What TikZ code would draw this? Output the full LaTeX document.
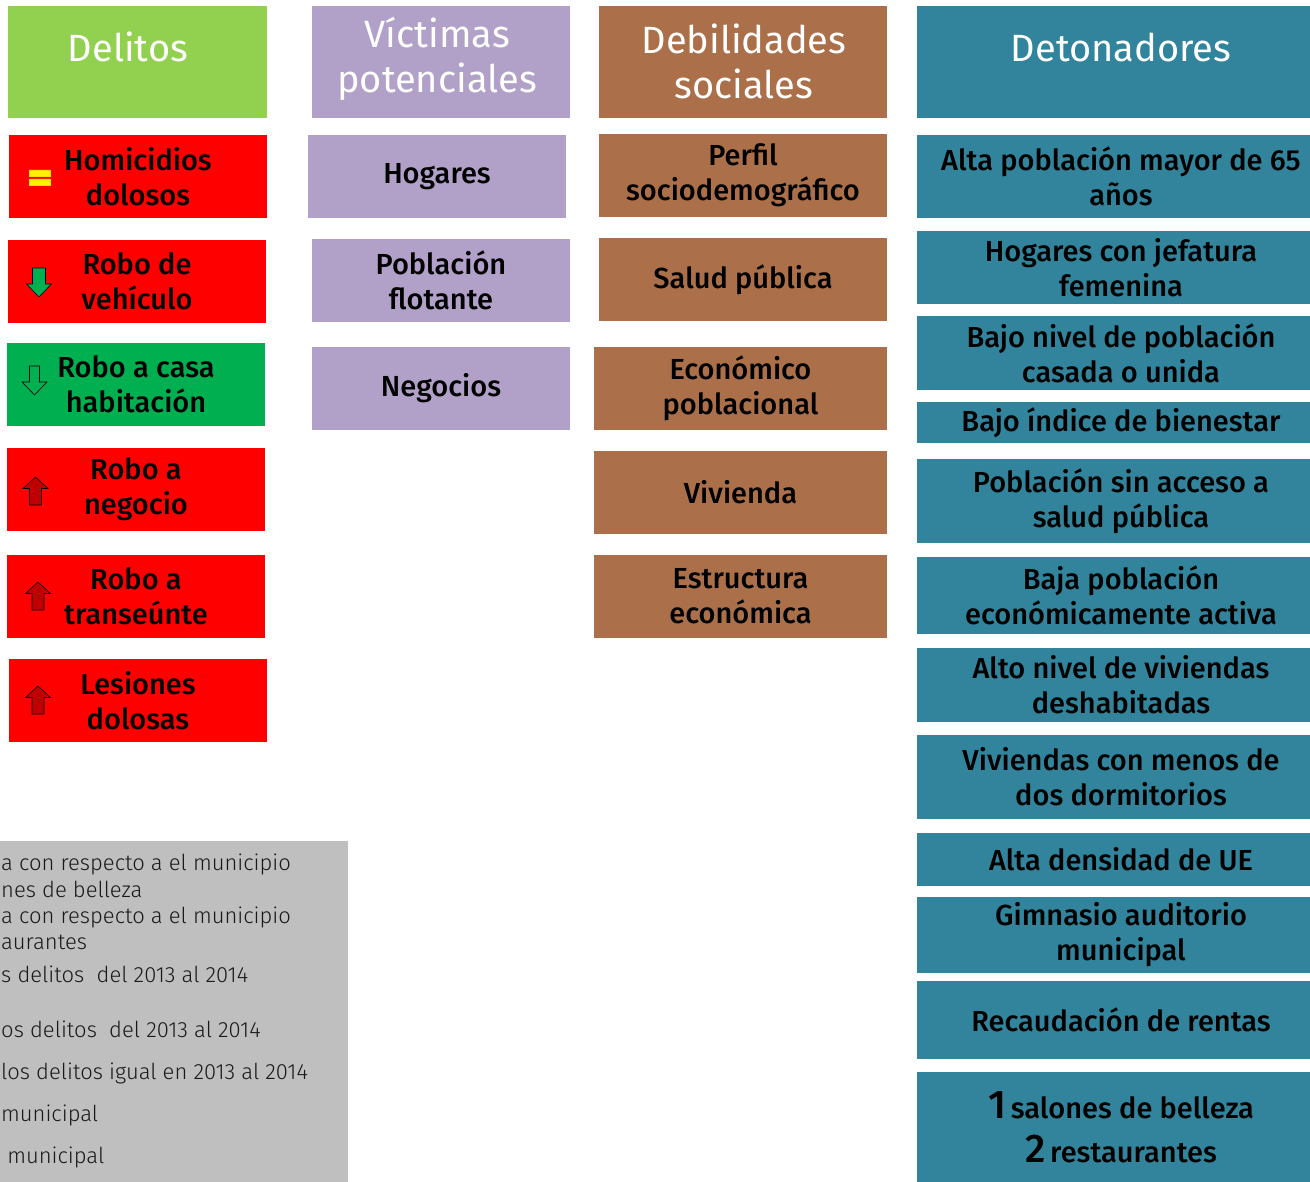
\documentclass[tikz,border=0pt]{standalone}
\usepackage{fontspec}
\setmainfont{Fira Sans}
\newfontfamily\cellfont{Fira Sans Medium}
\newfontfamily\legfont{Fira Sans Light}
\usepackage{tikz}
\definecolor{hdrgreen}{HTML}{92D050}
\definecolor{cellred}{HTML}{FF0000}
\definecolor{casagreen}{HTML}{00B050}
\definecolor{lila}{HTML}{B1A0C7}
\definecolor{cafe}{RGB}{171,112,74}
\definecolor{petrol}{HTML}{31849B}
\definecolor{legendgray}{HTML}{BFBFBF}
\definecolor{arrred}{HTML}{C00000}

\begin{document}
\begin{tikzpicture}[x=1pt,y=-1pt,
cell/.style={rectangle,inner sep=0pt,align=center,text=black,font=\cellfont\fontsize{29}{35}\selectfont},
hdrtxt/.style={align=center,text=white,inner sep=0pt,font=\fontsize{38}{45}\selectfont},
legtxt/.style={anchor=base west,inner sep=0pt,text=black!90,font=\legfont\fontsize{22}{26}\selectfont},
uparr/.style={fill=arrred,draw=black,line width=0.6pt,line join=miter},
dnarr/.style={fill=casagreen,draw=black,line width=0.6pt,line join=miter}]
\useasboundingbox (0,0) rectangle (1310,1182);
% headers
\foreach \n/\xa/\xb/\c in {h1/8/267/hdrgreen,h2/312/570/lila,h3/599/887/cafe,h4/917/1325/petrol} {
   \node[cell,fill=\c,minimum width={(\xb-\xa)*1pt},minimum height=112pt] (\n) at ({(\xa+\xb)/2},62) {};
}
\node[hdrtxt,anchor=base] (h1t) at (128,62) {Delitos};
\node[hdrtxt] (h2t) at (437,59) {Víctimas\\potenciales};
\node[hdrtxt] (h3t) at (744,61) {Debilidades\\sociales};
\node[hdrtxt,anchor=base] (h4t) at (1121,62) {Detonadores};
% delitos
\foreach \n/\xa/\xb/\ya/\yb/\c/\t in {d1/9/267/135/218/cellred/{Homicidios\\dolosos},
   d2/8/266/240/323/cellred/{Robo de\\vehículo},d3/7/265/343/426/casagreen/{Robo a casa\\habitación},
   d4/7/265/448/531/cellred/{Robo a\\negocio},d5/7/265/555/638/cellred/{Robo a\\transeúnte},
   d6/9/267/659/742/cellred/{Lesiones\\dolosas}} {
   \node[cell,fill=\c,minimum width={(\xb-\xa)*1pt},minimum height={(\yb-\ya)*1pt}] (\n) at ({(\xa+\xb)/2},{(\ya+\yb)/2}) {\t};
}
% victimas
\foreach \n/\xa/\xb/\ya/\yb/\t in {v1/308/566/135/218/{Hogares},v2/312/570/239/322/{Población\\flotante},
   v3/312/570/347/430/{Negocios}} {
   \node[cell,fill=lila,minimum width={(\xb-\xa)*1pt},minimum height={(\yb-\ya)*1pt}] (\n) at ({(\xa+\xb)/2},{(\ya+\yb)/2}) {\t};
}
% debilidades
\foreach \n/\xa/\ya/\yb/\t in {s1/599/134/217/{Perfil\\sociodemográfico},s2/599/238/321/{Salud pública},
   s3/594/347/430/{Económico\\poblacional},s4/594/451/534/{Vivienda},s5/594/555/638/{Estructura\\económica}} {
   \node[cell,fill=cafe,minimum width={(887-\xa)*1pt},minimum height={(\yb-\ya)*1pt}] (\n) at ({(\xa+887)/2},{(\ya+\yb)/2}) {\t};
}
% detonadores
\foreach \n/\ya/\yb/\t in {t1/135/218/{Alta población mayor de 65\\años},t2/231/304/{Hogares con jefatura\\femenina},
   t3/316/390/{Bajo nivel de población\\casada o unida},t4/402/443/{Bajo índice de bienestar},
   t5/459/543/{Población sin acceso a\\salud pública},t6/557/634/{Baja población\\económicamente activa},
   t7/648/722/{Alto nivel de viviendas\\deshabitadas},t8/735/819/{Viviendas con menos de\\dos dormitorios},
   t9/833/886/{Alta densidad de UE},t10/897/973/{Gimnasio auditorio\\municipal},
   t11/981/1059/{Recaudación de rentas}} {
   \node[cell,fill=petrol,minimum width=408pt,minimum height={(\yb-\ya)*1pt}] (\n) at (1121,{(\ya+\yb)/2}) {\t};
}
\node[cell,fill=petrol,minimum width=408pt,minimum height=110pt] (t12) at (1121,1127) {};
\node[cell,font=\cellfont\fontsize{29}{44}\selectfont] (t12t) at (1121,1127)
   {{\fontsize{40}{44}\selectfont 1}\,salones de belleza\\{\fontsize{40}{44}\selectfont 2}\,restaurantes};
% iconos
\draw[fill=yellow,draw=yellow!80!orange,line width=0.5pt] (29,170) rectangle (50,176) (29,179) rectangle (50,185);
\draw[dnarr] (32.5,268) -- ++(13,0) -- ++(0,16) -- ++(6,0) -- (39,297) -- (26.5,284) -- ++(6,0) -- cycle;
\draw[dnarr] (29.5,366) -- ++(10,0) -- ++(0,16) -- ++(7.5,0) -- (34.5,395) -- (22,382) -- ++(7.5,0) -- cycle;
\foreach \ax/\ay in {35.5/477,38/582,38/686} {
   \draw[uparr] (\ax,\ay) -- ++(12.5,11.5) -- ++(-6.5,0) -- ++(0,16.5) -- ++(-12,0) -- ++(0,-16.5) -- ++(-6.5,0) -- cycle;
}
% leyenda
\node[fill=legendgray,inner sep=0pt,minimum width=348pt,minimum height=341pt] (leg) at (174,1011.5) {};
\foreach \y/\t in {870/{a con respecto a el municipio},897/{nes de belleza},923/{a con respecto a el municipio},
   949/{aurantes},982/{s delitos\ \ del 2013 al 2014},1037/{os delitos\ \ del 2013 al 2014},
   1079/{los delitos igual en 2013 al 2014},1121/{municipal},1163/{\ municipal}} {
   \node[legtxt] at (1,\y) {\t};
}
\end{tikzpicture}
\end{document}
